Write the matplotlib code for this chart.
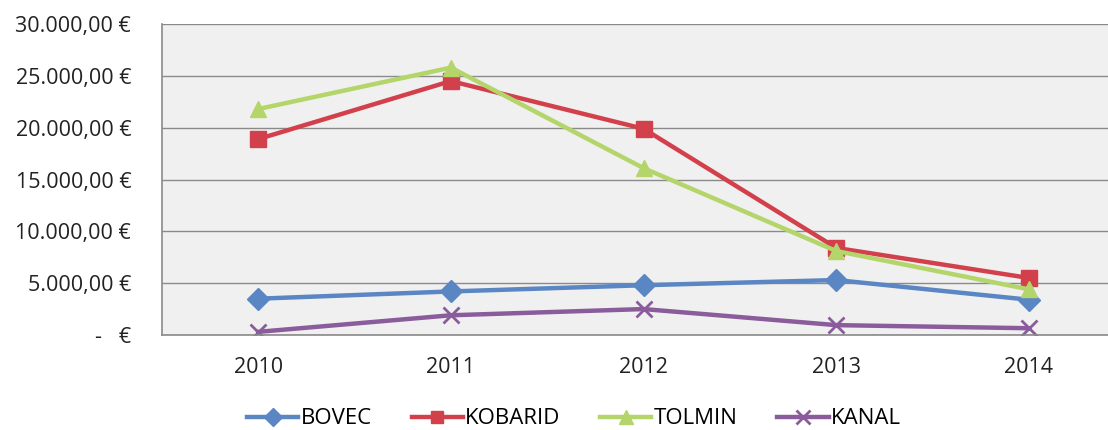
import matplotlib
matplotlib.use("Agg")
import matplotlib.pyplot as plt
from matplotlib.ticker import FuncFormatter

# -----------------------------
# DATA
# -----------------------------
years = ["2010", "2011", "2012", "2013", "2014"]
bovec = [3500, 4200, 4800, 5300, 3400]
kobarid = [18900, 24500, 19900, 8400, 5500]
tolmin = [21800, 25800, 16100, 8100, 4400]
kanal = [300, 1900, 2500, 950, 650]

series = [
    ("BOVEC", bovec, "#5b86c4", "D", 11),
    ("KOBARID", kobarid, "#d2414b", "s", 11),
    ("TOLMIN", tolmin, "#b3d56a", "^", 12),
    ("KANAL", kanal, "#8a5c9c", "x", 12),
]

plt.rcParams['font.family'] = ['Open Sans', 'DejaVu Sans']


def euro(v, pos):
    if v == 0:
        return "-   €"
    s = f"{v:,.2f}"
    s = s.replace(",", " ").replace(".", ",").replace(" ", ".")
    return s + " €"


fig = plt.figure(figsize=(11.08, 4.30), dpi=100)
ax = fig.add_axes([0.146, 0.221, 0.854, 0.723])
ax.set_facecolor("#f0f0f0")

x = range(len(years))
for name, vals, col, mk, ms in series:
    ax.plot(x, vals, color=col, lw=3.2, marker=mk, markersize=ms,
            markeredgewidth=2 if mk == "x" else 1, markeredgecolor=col,
            label=name, solid_joinstyle="round")

ax.set_ylim(0, 30000)
ax.set_yticks(range(0, 30001, 5000))
ax.yaxis.set_major_formatter(FuncFormatter(euro))
ax.set_xlim(-0.5, 4.41)
ax.set_xticks(list(x))
ax.set_xticklabels(years)
ax.grid(axis="y", color="#8a8a8a", lw=1)
ax.set_axisbelow(True)

for side in ["top", "right"]:
    ax.spines[side].set_visible(False)
for side in ["left", "bottom"]:
    ax.spines[side].set_color("#8a8a8a")
    ax.spines[side].set_linewidth(1.2)

ax.tick_params(axis="both", length=0, labelsize=15.5, colors="#222222")
ax.tick_params(axis="y", pad=22)
ax.tick_params(axis="x", pad=16)

fig.legend(loc="lower center", bbox_to_anchor=(0.518, -0.045), ncol=4,
           frameon=False, fontsize=16, handlelength=2.3, columnspacing=1.8,
           handletextpad=0.1, markerscale=0.8)

fig.savefig("out.png", dpi=100, facecolor="white")
